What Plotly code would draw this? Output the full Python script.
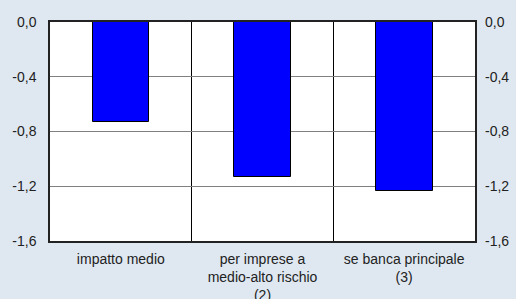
import plotly.graph_objects as go

categories = ["impatto medio", "per imprese a<br>medio-alto rischio<br>(2)", "se banca principale<br>(3)"]
values = [-0.733, -1.132, -1.232]
y_ticks = [0.0, -0.4, -0.8, -1.2, -1.6]
y_tick_labels = ["0,0", "-0,4", "-0,8", "-1,2", "-1,6"]

xpos = list(range(len(categories)))

fig = go.Figure()
fig.add_trace(go.Bar(
    x=xpos, y=values, width=0.4,
    marker=dict(color="#0000ff", line=dict(color="#000000", width=1)),
    showlegend=False, hoverinfo="skip",
))
# invisible trace so the right-hand axis is drawn
fig.add_trace(go.Scatter(
    x=[xpos[0]], y=[values[0]], yaxis="y2", mode="markers",
    marker=dict(opacity=0), showlegend=False, hoverinfo="skip",
))

font = dict(family="Liberation Sans, Arial, sans-serif", size=14, color="#222222")

fig.update_layout(
    width=516, height=299,
    autosize=False,
    margin=dict(l=50, r=41, t=22, b=58, pad=0),
    paper_bgcolor="#dfe8f1",
    plot_bgcolor="#ffffff",
    font=font,
    bargap=0,
    xaxis=dict(
        range=[-0.5, 2.5], autorange=False, tickmode="array", tickvals=xpos, ticktext=categories,
        showgrid=False, zeroline=False, ticks="", showline=True, linecolor="#222222",
        linewidth=1.5, mirror=True, tickfont=font, automargin=False, ticklabelstandoff=4,
        minor=dict(tickmode="array", tickvals=[0.5, 1.5], showgrid=True,
                   gridcolor="#000000", gridwidth=1, ticks=""),
    ),
    yaxis=dict(
        range=[-1.6, 0], autorange=False, tickmode="array", tickvals=y_ticks, ticktext=y_tick_labels,
        showgrid=True, gridcolor="#808080", gridwidth=1, zeroline=False,
        showline=True, linecolor="#222222", linewidth=1.5, mirror=True,
        ticks="", tickfont=font, automargin=False, ticklabelstandoff=9,
    ),
    yaxis2=dict(
        range=[-1.6, 0], autorange=False, tickmode="array", tickvals=y_ticks, ticktext=y_tick_labels,
        overlaying="y", side="right", showgrid=False, zeroline=False,
        showline=False, ticks="", tickfont=font, automargin=False, ticklabelstandoff=9,
    ),
)

fig.write_html(
    "out.html",
    config={"displayModeBar": False},
    post_script="document.body.style.margin='0px';",
)
